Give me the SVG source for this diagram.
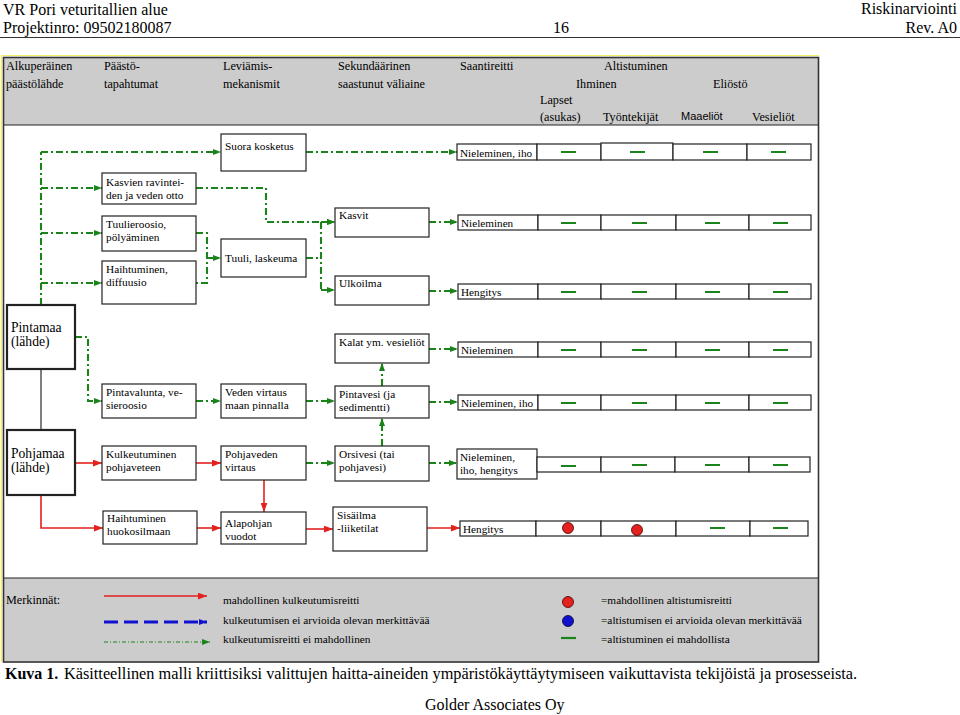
<svg xmlns="http://www.w3.org/2000/svg" width="960" height="715" viewBox="0 0 960 715">
<style>
text{font-family:"Liberation Serif","Times New Roman",serif;fill:#000}
.hd{font-size:16px}
.col{font-size:12.2px}
.nt{font-size:11.3px}
.rt{font-size:11.2px}
.lg{font-size:11.3px}
.box{fill:#fff;stroke:#222;stroke-width:1.2}
.src{fill:#fff;stroke:#222;stroke-width:2.2}
.gr{fill:none;stroke:#1a841a;stroke-width:2.1;stroke-dasharray:7 3 2 3}
.rd{fill:none;stroke:#e3211f;stroke-width:1.6}
.no{stroke:#1a841a;stroke-width:2.2}
</style>
<defs>
<marker id="ag" viewBox="0 0 8 6" refX="8" refY="3" markerWidth="8" markerHeight="6" orient="auto" markerUnits="userSpaceOnUse"><path d="M0,0 L8,3 L0,6 z" fill="#1a841a"/></marker>
<marker id="ar" viewBox="0 0 8 6" refX="8" refY="3" markerWidth="9" markerHeight="7" orient="auto" markerUnits="userSpaceOnUse"><path d="M0,0 L8,3 L0,6 z" fill="#e3211f"/></marker>
<marker id="ab" viewBox="0 0 8 6" refX="8" refY="3" markerWidth="8" markerHeight="7" orient="auto" markerUnits="userSpaceOnUse"><path d="M0,0 L8,3 L0,6 z" fill="#1010d0"/></marker>
</defs>
<rect width="960" height="715" fill="#fff"/>

<!-- page header -->
<g id="page-header">
<text class="hd" x="3" y="15">VR Pori veturitallien alue</text>
<text class="hd" x="3" y="33">Projektinro: 09502180087</text>
<text class="hd" x="553" y="33">16</text>
<text class="hd" x="957" y="14" text-anchor="end">Riskinarviointi</text>
<text class="hd" x="957" y="33" text-anchor="end">Rev. A0</text>
<line x1="0" y1="37.5" x2="960" y2="37.5" stroke="#333" stroke-width="1"/>
</g>

<!-- frame -->
<g id="frame">
<rect x="3" y="57" width="816" height="68" fill="#cccccc"/>
<rect x="3" y="578" width="816" height="84" fill="#cccccc"/>
<line x1="3" y1="125" x2="819" y2="125" stroke="#222" stroke-width="1.2"/>
<line x1="3" y1="578" x2="819" y2="578" stroke="#222" stroke-width="1.2"/>
<rect x="3.5" y="57.5" width="815" height="604.5" fill="none" stroke="#333" stroke-width="1.6"/>
<polyline points="1.5,662 1.5,55.5 819,55.5" fill="none" stroke="#f0f060" stroke-width="1.2"/>
</g>

<!-- column headers -->
<g id="column-headers">
<text class="col" x="6" y="70">Alkuperäinen</text>
<text class="col" x="6" y="88">päästölähde</text>
<text class="col" x="104" y="70">Päästö-</text>
<text class="col" x="104" y="88">tapahtumat</text>
<text class="col" x="223" y="70">Leviämis-</text>
<text class="col" x="223" y="88">mekanismit</text>
<text class="col" x="338" y="70">Sekundäärinen</text>
<text class="col" x="338" y="88">saastunut väliaine</text>
<text class="col" x="460" y="70">Saantireitti</text>
<text class="col" x="604" y="70">Altistuminen</text>
<text class="col" x="576" y="88">Ihminen</text>
<text class="col" x="713" y="88">Eliöstö</text>
<text class="col" x="540" y="104">Lapset</text>
<text class="col" x="540" y="121">(asukas)</text>
<text class="col" x="603" y="121">Työntekijät</text>
<text x="681" y="120" style="font-family:'Liberation Sans',Arial,sans-serif;font-size:11px">Maaeliöt</text>
<text class="col" x="752" y="121">Vesieliöt</text>
</g>

<!-- connectors -->
<g id="connectors">
<path class="gr" d="M41,305 V152"/>
<path class="gr" d="M41,152 H221" marker-end="url(#ag)"/>
<path class="gr" d="M41,188 H102" marker-end="url(#ag)"/>
<path class="gr" d="M41,233 H102" marker-end="url(#ag)"/>
<path class="gr" d="M41,283 H102" marker-end="url(#ag)"/>
<path class="gr" d="M306,152 H457" marker-end="url(#ag)"/>
<path class="gr" d="M196,188 H266 V222 H335" marker-end="url(#ag)"/>
<path class="gr" d="M196,233 H207 V283 H196"/>
<path class="gr" d="M207,258 H221" marker-end="url(#ag)"/>
<path class="gr" d="M306,258 H321"/>
<path class="gr" d="M321,222 V290"/>
<path class="gr" d="M321,222 H335" marker-end="url(#ag)"/>
<path class="gr" d="M321,290 H335" marker-end="url(#ag)"/>
<path class="gr" d="M429,222 H458" marker-end="url(#ag)"/>
<path class="gr" d="M429,291 H458" marker-end="url(#ag)"/>
<path class="gr" d="M75,337 H88 V401 H102" marker-end="url(#ag)"/>
<path class="gr" d="M196,401 H221" marker-end="url(#ag)"/>
<path class="gr" d="M306,401 H335" marker-end="url(#ag)"/>
<path class="gr" d="M382,386 V363" marker-end="url(#ag)"/>
<path class="gr" d="M382,446 V418" marker-end="url(#ag)"/>
<path class="gr" d="M429,349 H458" marker-end="url(#ag)"/>
<path class="gr" d="M429,402 H458" marker-end="url(#ag)"/>
<path class="gr" d="M306,463 H335" marker-end="url(#ag)"/>
<path class="gr" d="M429,463 H457" marker-end="url(#ag)"/>
<line x1="41" y1="369" x2="41" y2="430" stroke="#555" stroke-width="1.5"/>
<path class="rd" d="M75,463 H102" marker-end="url(#ar)"/>
<path class="rd" d="M196,463 H221" marker-end="url(#ar)"/>
<path class="rd" d="M264,480 V512" marker-end="url(#ar)"/>
<path class="rd" d="M41,495 V528 H103" marker-end="url(#ar)"/>
<path class="rd" d="M197,528 H221" marker-end="url(#ar)"/>
<path class="rd" d="M306,529 H333" marker-end="url(#ar)"/>
<path class="rd" d="M427,528 H460" marker-end="url(#ar)"/>
</g>

<!-- nodes -->
<g id="n-pintamaa"><rect class="src" x="7" y="305" width="68" height="64"/><text x="11" y="332" style="font-size:13.6px">Pintamaa</text><text x="11" y="346" style="font-size:13.6px">(lähde)</text></g>
<g id="n-pohjamaa"><rect class="src" x="7" y="430" width="68" height="65"/><text x="11" y="458" style="font-size:13.6px">Pohjamaa</text><text x="11" y="472" style="font-size:13.6px">(lähde)</text></g>

<g id="n-suora"><rect class="box" x="221" y="134" width="85" height="37"/><text class="nt" x="225" y="150">Suora kosketus</text></g>
<g id="n-kasvien"><rect class="box" x="102" y="173" width="94" height="31"/><text class="nt" x="106" y="186">Kasvien ravintei-</text><text class="nt" x="106" y="199">den ja veden otto</text></g>
<g id="n-tuulieroosio"><rect class="box" x="102" y="216" width="94" height="35"/><text class="nt" x="106" y="228">Tuulieroosio,</text><text class="nt" x="106" y="241">pölyäminen</text></g>
<g id="n-haihtuminen"><rect class="box" x="102" y="261" width="94" height="43"/><text class="nt" x="106" y="273">Haihtuminen,</text><text class="nt" x="106" y="286">diffuusio</text></g>
<g id="n-tuuli"><rect class="box" x="221" y="239" width="85" height="38"/><text class="nt" x="225" y="262">Tuuli, laskeuma</text></g>
<g id="n-kasvit"><rect class="box" x="335" y="208" width="94" height="29"/><text class="nt" x="339" y="219">Kasvit</text></g>
<g id="n-ulkoilma"><rect class="box" x="335" y="276" width="94" height="29"/><text class="nt" x="339" y="287">Ulkoilma</text></g>
<g id="n-kalat"><rect class="box" x="335" y="334" width="94" height="29"/><text class="nt" x="339" y="346">Kalat ym. vesieliöt</text></g>
<g id="n-pintavalunta"><rect class="box" x="102" y="384" width="94" height="34"/><text class="nt" x="106" y="396">Pintavalunta, ve-</text><text class="nt" x="106" y="409">sieroosio</text></g>
<g id="n-veden"><rect class="box" x="221" y="384" width="85" height="34"/><text class="nt" x="225" y="396">Veden virtaus</text><text class="nt" x="225" y="409">maan pinnalla</text></g>
<g id="n-pintavesi"><rect class="box" x="335" y="386" width="94" height="32"/><text class="nt" x="339" y="398">Pintavesi (ja</text><text class="nt" x="339" y="411">sedimentti)</text></g>
<g id="n-kulkeutuminen"><rect class="box" x="102" y="446" width="94" height="34"/><text class="nt" x="106" y="458">Kulkeutuminen</text><text class="nt" x="106" y="471">pohjaveteen</text></g>
<g id="n-pohjaveden"><rect class="box" x="221" y="446" width="85" height="34"/><text class="nt" x="225" y="458">Pohjaveden</text><text class="nt" x="225" y="471">virtaus</text></g>
<g id="n-orsivesi"><rect class="box" x="335" y="446" width="94" height="35"/><text class="nt" x="339" y="458">Orsivesi (tai</text><text class="nt" x="339" y="471">pohjavesi)</text></g>
<g id="n-huokosilma"><rect class="box" x="103" y="511" width="94" height="33"/><text class="nt" x="107" y="522">Haihtuminen</text><text class="nt" x="107" y="535">huokosilmaan</text></g>
<g id="n-alapohjan"><rect class="box" x="221" y="512" width="85" height="32"/><text class="nt" x="225" y="527">Alapohjan</text><text class="nt" x="225" y="540">vuodot</text></g>
<g id="n-sisailma"><rect class="box" x="333" y="507" width="94" height="44"/><text class="nt" x="337" y="519">Sisäilma</text><text class="nt" x="337" y="532">-liiketilat</text></g>

<!-- exposure rows -->
<g id="r1"><rect class="box" x="457" y="144" width="80" height="16"/><text class="rt" x="460" y="157">Nieleminen, iho</text>
<rect class="box" x="537" y="144" width="64" height="16"/><rect class="box" x="601" y="143" width="72" height="17"/><rect class="box" x="673" y="144" width="74" height="16"/><rect class="box" x="747" y="144" width="64" height="16"/>
<path class="no" d="M561,152h15M630,152h15M703,152h15M771,152h15"/></g>
<g id="r2"><rect class="box" x="458" y="215" width="80" height="15"/><text class="rt" x="461" y="227">Nieleminen</text>
<rect class="box" x="538" y="215" width="63" height="15"/><rect class="box" x="601" y="215" width="75" height="15"/><rect class="box" x="676" y="215" width="73" height="15"/><rect class="box" x="749" y="215" width="62" height="15"/>
<path class="no" d="M561,223h15M632,223h15M705,223h15M773,223h15"/></g>
<g id="r3"><rect class="box" x="458" y="284" width="80" height="15"/><text class="rt" x="461" y="296">Hengitys</text>
<rect class="box" x="538" y="284" width="63" height="15"/><rect class="box" x="601" y="284" width="75" height="15"/><rect class="box" x="676" y="284" width="73" height="15"/><rect class="box" x="749" y="284" width="62" height="15"/>
<path class="no" d="M561,292h15M632,292h15M705,292h15M773,292h15"/></g>
<g id="r4"><rect class="box" x="458" y="342" width="80" height="15"/><text class="rt" x="461" y="354">Nieleminen</text>
<rect class="box" x="538" y="342" width="63" height="15"/><rect class="box" x="601" y="342" width="75" height="15"/><rect class="box" x="676" y="342" width="73" height="15"/><rect class="box" x="749" y="342" width="62" height="15"/>
<path class="no" d="M561,350h15M632,350h15M705,350h15M773,350h15"/></g>
<g id="r5"><rect class="box" x="458" y="395" width="80" height="15"/><text class="rt" x="461" y="407">Nieleminen, iho</text>
<rect class="box" x="538" y="395" width="63" height="15"/><rect class="box" x="601" y="395" width="75" height="15"/><rect class="box" x="676" y="395" width="73" height="15"/><rect class="box" x="749" y="395" width="62" height="15"/>
<path class="no" d="M561,403h15M632,403h15M705,403h15M773,403h15"/></g>
<g id="r6"><rect class="box" x="457" y="449" width="80" height="30"/><text class="rt" x="460" y="461">Nieleminen,</text><text class="rt" x="460" y="474">iho, hengitys</text>
<rect class="box" x="537" y="457" width="64" height="15"/><rect class="box" x="601" y="457" width="74" height="15"/><rect class="box" x="675" y="457" width="74" height="15"/><rect class="box" x="749" y="457" width="61" height="15"/>
<path class="no" d="M561,466h15M632,465h15M705,465h15M773,465h15"/></g>
<g id="r7"><rect class="box" x="460" y="521" width="76" height="15"/><text class="rt" x="463" y="533">Hengitys</text>
<rect class="box" x="536" y="521" width="65" height="15"/><rect class="box" x="601" y="521" width="75" height="15"/><rect class="box" x="676" y="521" width="74" height="15"/><rect class="box" x="750" y="521" width="58" height="15"/>
<circle cx="568" cy="528" r="5.5" fill="#e3211f" stroke="#400" stroke-width="0.8"/>
<circle cx="637" cy="530" r="5.5" fill="#e3211f" stroke="#400" stroke-width="0.8"/>
<path class="no" d="M710,528h15M773,528h15"/></g>

<!-- legend -->
<g id="legend">
<text class="col" x="6" y="604">Merkinnät:</text>
<path class="rd" d="M104,596 H207" stroke-width="2.2" marker-end="url(#ar)"/>
<path d="M104,622 H207" fill="none" stroke="#1010d0" stroke-width="3" stroke-dasharray="14 6" marker-end="url(#ab)"/>
<path d="M104,642 H210" fill="none" stroke="#1a841a" stroke-width="1.2" stroke-dasharray="4 2 1 2" marker-end="url(#ag)"/>
<text class="lg" x="223" y="604">mahdollinen kulkeutumisreitti</text>
<text class="lg" x="223" y="624">kulkeutumisen ei arvioida olevan merkittävää</text>
<text class="lg" x="223" y="643">kulkeutumisreitti ei mahdollinen</text>
<circle cx="568" cy="602" r="5.5" fill="#e3211f" stroke="#400" stroke-width="0.8"/>
<circle cx="568" cy="621" r="5.5" fill="#1010d0" stroke="#002" stroke-width="0.8"/>
<path class="no" d="M561,638h15"/>
<text class="lg" x="601" y="604">=mahdollinen altistumisreitti</text>
<text class="lg" x="601" y="624">=altistumisen ei arvioida olevan merkittävää</text>
<text class="lg" x="601" y="643">=altistuminen ei mahdollista</text>
</g>

<!-- caption -->
<g id="caption">
<text class="hd" x="5" y="679"><tspan font-weight="bold">Kuva 1.</tspan><tspan x="64" font-size="16.3">Käsitteellinen malli kriittisiksi valittujen haitta-aineiden ympäristökäyttäytymiseen vaikuttavista tekijöistä ja prosesseista.</tspan></text>
<text class="hd" x="425" y="710">Golder Associates Oy</text>
</g>
</svg>
